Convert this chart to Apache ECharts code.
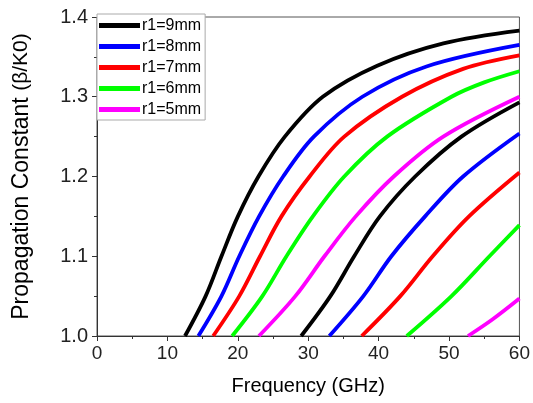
<!DOCTYPE html>
<html>
<head>
<meta charset="utf-8">
<script src="https://cdn.jsdelivr.net/npm/echarts@6/dist/echarts.min.js"></script>
<style>
html,body{margin:0;padding:0;background:#fff;}
#c{width:533px;height:403px;}
</style>
</head>
<body>
<div id="c"></div>
<script>
// Legend / series names and colors
var names = ['r1=9mm', 'r1=8mm', 'r1=7mm', 'r1=6mm', 'r1=5mm'];
var colors = ['#000000', '#0000ff', '#ff0000', '#00ff00', '#ff00ff'];

// Fundamental mode curves [frequency GHz, beta/k0]
var r9_mode1 = [[12.5,1.0],[15.43,1.05],[17.68,1.1],[20.01,1.15],[22.93,1.2],[26.68,1.25],[32.07,1.3],[39.8,1.339],[49.2,1.367],[60,1.383]];
var r8_mode1 = [[14.4,1.0],[17.68,1.05],[20.21,1.1],[23.02,1.15],[26.44,1.2],[30.8,1.25],[37.69,1.3],[46.8,1.338],[60,1.365]];
var r7_mode1 = [[16.5,1.0],[20.21,1.05],[23.16,1.1],[26.2,1.15],[30.2,1.2],[35.12,1.25],[43.32,1.3],[52,1.335],[60,1.352]];
var r6_mode1 = [[19.2,1.0],[23.49,1.05],[26.91,1.1],[30.66,1.15],[35.12,1.2],[41.21,1.25],[50.35,1.3],[55,1.318],[60,1.332]];
var r5_mode1 = [[23.0,1.0],[28.17,1.05],[32.31,1.1],[36.75,1.15],[42.15,1.2],[49.18,1.25],[60,1.300]];

// Higher-order mode curves
var r9_mode2 = [[29.0,1.0],[33.15,1.05],[36.53,1.1],[40.18,1.15],[45.19,1.2],[51.76,1.25],[60,1.293]];
var r8_mode2 = [[33.0,1.0],[37.83,1.05],[41.81,1.1],[46.6,1.15],[52.0,1.2],[60,1.254]];
var r7_mode2 = [[37.6,1.0],[43.08,1.05],[47.68,1.1],[52.84,1.15],[60,1.205]];
var r6_mode2 = [[44.0,1.0],[50.35,1.05],[55.74,1.1],[60,1.139]];
var r5_mode2 = [[52.7,1.0],[56.2,1.021],[60,1.047]];

var xTicks = [0, 10, 20, 30, 40, 50, 60];
var yTicks = [1.0, 1.1, 1.2, 1.3, 1.4];

var mode1 = [r9_mode1, r8_mode1, r7_mode1, r6_mode1, r5_mode1];
var mode2 = [r9_mode2, r8_mode2, r7_mode2, r6_mode2, r5_mode2];

var series = [];
function addSeries(arr) {
  arr.forEach(function (d, i) {
    series.push({
      name: names[i],
      type: 'line',
      data: d,
      smooth: 0.34,
      showSymbol: false,
      symbol: 'none',
      lineStyle: { color: colors[i], width: 3.8 },
      itemStyle: { color: colors[i] },
      clip: true,
      animation: false
    });
  });
}
addSeries(mode1);
addSeries(mode2);

var chart = echarts.init(document.getElementById('c'), null, { renderer: 'canvas' });
var font = '"Liberation Sans", Arial, sans-serif';
chart.setOption({
  animation: false,
  backgroundColor: '#fff',
  grid: { left: 97, right: 10, top: 17, bottom: 67, show: true, borderColor: '#555', borderWidth: 1, backgroundColor: 'transparent' },
  legend: {
    data: names,
    orient: 'vertical',
    left: 97,
    top: 14,
    backgroundColor: '#fff',
    borderColor: '#aaa',
    borderWidth: 1,
    padding: [3, 4, 2, 2],
    itemGap: 4,
    itemWidth: 41,
    itemHeight: 5,
    icon: 'rect',
    textStyle: { fontFamily: font, fontSize: 16, color: '#000', lineHeight: 17, padding: [0, 0, 0, -3] }
  },
  xAxis: {
    type: 'value',
    min: xTicks[0],
    max: xTicks[xTicks.length - 1],
    interval: 10,
    name: 'Frequency (GHz)',
    nameLocation: 'middle',
    nameGap: 40,
    nameTextStyle: { fontFamily: font, fontSize: 20, color: '#000' },
    axisLine: { show: true, lineStyle: { color: '#333', width: 1 } },
    axisTick: { show: true, inside: false, length: 5, lineStyle: { color: '#333' } },
    minorTick: { show: true, splitNumber: 2, length: 3, lineStyle: { color: '#333' } },
    axisLabel: { fontFamily: font, fontSize: 19, color: '#222', margin: 8 },
    splitLine: { show: false }
  },
  yAxis: {
    type: 'value',
    min: yTicks[0],
    max: yTicks[yTicks.length - 1],
    interval: 0.1,
    name: '{a|Propagation Constant }{b|(β/K0)}',
    nameLocation: 'middle',
    nameGap: 64,
    nameRotate: 90,
    nameTextStyle: {
      fontFamily: font, color: '#000',
      rich: {
        a: { fontFamily: font, fontSize: 23, color: '#000' },
        b: { fontFamily: font, fontSize: 21, color: '#000' }
      }
    },
    axisLine: { show: true, lineStyle: { color: '#333', width: 1 } },
    axisTick: { show: true, inside: false, length: 5, lineStyle: { color: '#333' } },
    minorTick: { show: true, splitNumber: 2, length: 3, lineStyle: { color: '#333' } },
    axisLabel: { fontFamily: font, fontSize: 20, color: '#222', margin: 9, formatter: function (v) { return v.toFixed(1); } },
    splitLine: { show: false }
  },
  series: series
});
</script>
</body>
</html>
